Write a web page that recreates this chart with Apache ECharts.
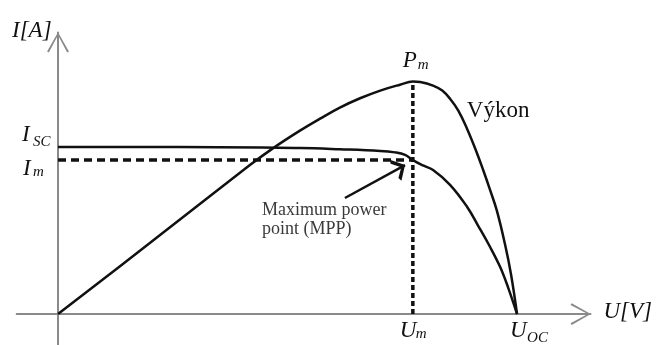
<!DOCTYPE html>
<html>
<head>
<meta charset="utf-8">
<script src="https://cdn.jsdelivr.net/npm/echarts@6/dist/echarts.min.js"></script>
<style>
  html, body { margin: 0; padding: 0; background: #fff; }
  #chart { width: 657px; height: 345px; }
</style>
</head>
<body>
<div id="chart"></div>
<script>
// Characteristic points of the cell (schematic units)
const I_SC = 100, U_OC = 100;
const U_MP = 77.3, I_MP = 92.2, P_MAX = 139.2;

// I–U characteristic
const ivVoltage = [0, 26.6, 52.7, 61.4, 70.2, 73.4, 75.6, U_MP, 79.5, 81.7, 85.4, 89.1, 91.5, 94.1, 96.3, 98.0, U_OC];
const ivCurrent = [I_SC, 100, 99.4, 98.7, 97.7, 96.8, 95.3, I_MP, 89.0, 86.2, 77.4, 64.3, 53.0, 40.3, 28.3, 16.3, 0];

// Power curve (Výkon)
const pVoltage = [0, 20.0, 41.8, 46.8, 52.7, 57.1, 61.4, 65.8, 70.2, 74.5, U_MP, 78.9, 81.7, 83.7, 85.4, 87.2, 89.1, 90.9, 92.6, 94.1, 95.6, 97.4, 98.7, U_OC];
const pPower   = [0, 42.5, 89.2, 99.2, 109.8, 117.0, 123.6, 129.2, 133.8, 137.3, P_MAX, 138.9, 136.8, 133.8, 128.9, 121.8, 111.0, 99.0, 86.4, 74.5, 61.9, 41.5, 23.6, 0];

// Pointer towards the maximum power point
const mppArrow = [[62.5, 69.5], [75.6, 89.2]];

const SERIF = '"Liberation Serif", "Times New Roman", serif';
const INK = '#111';
const AXIS_GREY = '#8a8a8a';

// Open chevron arrowheads; the tiny triangle keeps the tip at the symbol centre
const AXIS_HEAD = 'path://M10,18 L20,35.5 L18.4,36.6 L10,20.8 L1.6,36.6 L0,35.5 Z M10,0 L10.1,0.1 L9.9,0.1 Z';
const POINTER_HEAD = 'path://M10,18 L20,34 L16.8,36 L10,24.5 L3.2,36 L0,34 Z M10,0 L10.1,0.1 L9.9,0.1 Z';

const pairs = (xs, ys) => xs.map((x, i) => [x, ys[i]]);

const chart = echarts.init(document.getElementById('chart'), null, { renderer: 'canvas' });

const hiddenAxis = (min, max) => ({
  type: 'value',
  min: min,
  max: max,
  axisLine: {
    onZero: true,
    lineStyle: { color: AXIS_GREY, width: 2 },
    symbol: ['none', AXIS_HEAD],
    symbolSize: [22, 40]
  },
  axisTick: { show: false },
  axisLabel: { show: false },
  splitLine: { show: false }
});

chart.setOption({
  animation: false,
  backgroundColor: '#fff',
  grid: { left: 16.7, right: 66.5, top: 32.6, bottom: 0 },
  xAxis: hiddenAxis(-9, 116),
  yAxis: hiddenAxis(-18.5, 168.5),
  series: [
    {
      name: 'Im',
      type: 'line',
      data: [[0, I_MP], [U_MP, I_MP]],
      symbol: 'none',
      lineStyle: { color: INK, width: 3.5, type: [8, 5] },
      z: 3
    },
    {
      name: 'Um',
      type: 'line',
      data: [[U_MP, 0], [U_MP, P_MAX]],
      symbol: 'none',
      lineStyle: { color: INK, width: 3.5, type: [5, 3] },
      z: 3
    },
    {
      name: 'I',
      type: 'line',
      data: pairs(ivVoltage, ivCurrent),
      symbol: 'none',
      smooth: 0.4,
      lineStyle: { color: INK, width: 2.5 },
      z: 4
    },
    {
      name: 'Výkon',
      type: 'line',
      data: pairs(pVoltage, pPower),
      symbol: 'none',
      smooth: 0.4,
      lineStyle: { color: INK, width: 2.5 },
      z: 4
    },
    {
      name: 'MPP',
      type: 'lines',
      coordinateSystem: 'cartesian2d',
      data: [{ coords: mppArrow }],
      symbol: ['none', POINTER_HEAD],
      symbolSize: [13, 24],
      lineStyle: { color: INK, width: 2.5, opacity: 1 },
      z: 5
    }
  ]
});

// Annotations placed relative to points of the chart
const px = (u, v) => chart.convertToPixel({ gridIndex: 0 }, [u, v]);
const txt = (x, y, text, size, italic, extra) => ({
  type: 'text',
  x: x, y: y,
  style: Object.assign({
    text: text,
    font: (italic ? 'italic ' : '') + size + 'px ' + SERIF,
    fill: INK,
    align: 'left',
    verticalAlign: 'middle'
  }, extra || {})
});

const yTop = px(0, 168.5);
const xEnd = px(116, 0);
const isc = px(0, I_SC);
const im = px(0, I_MP);
const pm = px(U_MP, P_MAX);
const um = px(U_MP, 0);
const uoc = px(U_OC, 0);
const note = px(mppArrow[0][0], mppArrow[0][1]);

chart.setOption({
  graphic: [
    txt(yTop[0] - 46, yTop[1] - 2, 'I[A]', 23, true),
    txt(xEnd[0] + 13, xEnd[1] - 2, 'U[V]', 23, true),
    txt(isc[0] - 36, isc[1] - 12, 'I', 23, true),
    txt(isc[0] - 25, isc[1] - 5, 'SC', 15, true),
    txt(im[0] - 35, im[1] + 9, 'I', 23, true),
    txt(im[0] - 25, im[1] + 12, 'm', 15, true),
    txt(pm[0] - 10, pm[1] - 21, 'P', 23, true),
    txt(pm[0] + 5, pm[1] - 16, 'm', 15, true),
    txt(pm[0] + 54, pm[1] + 29, 'Výkon', 23, false),
    txt(um[0] - 13, um[1] + 17, 'U', 23, true),
    txt(um[0] + 3, um[1] + 20, 'm', 15, true),
    txt(uoc[0] - 7, uoc[1] + 17, 'U', 23, true),
    txt(uoc[0] + 10, uoc[1] + 24, 'OC', 15, true),
    txt(note[0] - 83, note[1] + 12, 'Maximum power', 18, false, { fill: '#3a3a3a' }),
    txt(note[0] - 83, note[1] + 31, 'point (MPP)', 18, false, { fill: '#3a3a3a' })
  ]
});
</script>
</body>
</html>
